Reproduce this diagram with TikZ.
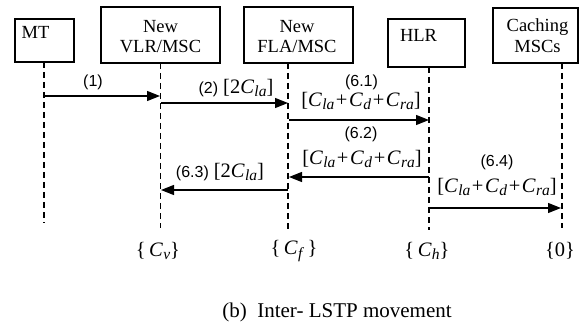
\documentclass[tikz,border=0pt]{standalone}
\usepackage{fontspec}
\setmainfont{Liberation Serif}
\newfontfamily\lsans{Liberation Sans}
\usetikzlibrary{arrows.meta}
\newcommand\Csub[1]{\textit{C}\kern0.3pt\raisebox{-3.5pt}{\fontsize{15.5}{15.5}\selectfont\textit{#1}}}
\newcommand\Pl{\hspace{0.08em}+\hspace{0.08em}}
\begin{document}
\begin{tikzpicture}[x=1pt,y=-1pt,
  box/.style={draw, line width=1.1pt, inner sep=0pt},
  btxt/.style={font=\fontsize{18.5}{18.5}\selectfont, inner sep=0pt, anchor=base},
  life/.style={line width=1.3pt, dash pattern=on 6pt off 4pt},
  msg/.style={line width=1.4pt, -{Triangle[length=13pt,width=10pt]}},
  lbl/.style={font=\lsans\fontsize{16}{16}\selectfont, inner sep=0pt},
  mth/.style={font=\fontsize{20.5}{20.5}\selectfont, inner sep=0pt},
  captxt/.style={font=\fontsize{21}{21}\selectfont, inner sep=0pt}]
\useasboundingbox (0,0) rectangle (582,329);
% boxes
\node[box, minimum width=59pt, minimum height=43pt] (mt) at (44.5,40.5) {};
\node[box, minimum width=119pt, minimum height=56pt] (vlr) at (160.5,35) {};
\node[box, minimum width=109pt, minimum height=56pt] (fla) at (298.5,35) {};
\node[box, minimum width=77pt, minimum height=48pt] (hlr) at (426.5,43) {};
\node[box, minimum width=85pt, minimum height=55pt] (cach) at (535.5,35.5) {};
% box texts
\node[btxt, anchor=base west] (mtT) at (21.5,38.3) {MT};
\node[btxt] (vlrT1) at (160.5,33) {New};
\node[btxt] (vlrT2) at (160.5,53) {VLR/MSC};
\node[btxt] (flaT1) at (297,33) {New};
\node[btxt] (flaT2) at (297,53) {FLA/MSC};
\node[btxt] (hlrT) at (418.5,42) {HLR};
\node[btxt] (cachT1) at (537.5,32) {Caching};
\node[btxt] (cachT2) at (537.5,53) {MSCs};
% lifelines
\coordinate (mtA) at (44,62);  \coordinate (mtB) at (44,223);
\coordinate (vlrA) at (160.5,63); \coordinate (vlrB) at (160.5,228);
\coordinate (flaA) at (288,63); \coordinate (flaB) at (288,230);
\coordinate (hlrA) at (429,67); \coordinate (hlrB) at (429,230);
\coordinate (cachA) at (562,63); \coordinate (cachB) at (562,228);
\draw[life] (mtA) -- (mtB);
\draw[life] (vlrA) -- (vlrB);
\draw[life] (flaA) -- (flaB);
\draw[life] (hlrA) -- (hlrB);
\draw[life] (cachA) -- (cachB);
% message end points
\coordinate (m1s) at (44,96);   \coordinate (m1e) at (160,96);
\coordinate (m2s) at (161,103); \coordinate (m2e) at (288,103);
\coordinate (m3s) at (289,120); \coordinate (m3e) at (429,120);
\coordinate (m4s) at (429,177); \coordinate (m4e) at (289,177);
\coordinate (m5s) at (288,190); \coordinate (m5e) at (161,190);
\coordinate (m6s) at (430,208); \coordinate (m6e) at (561,208);
\draw[msg] (m1s) -- (m1e);
\draw[msg] (m2s) -- (m2e);
\draw[msg] (m3s) -- (m3e);
\draw[msg] (m4s) -- (m4e);
\draw[msg] (m5s) -- (m5e);
\draw[msg] (m6s) -- (m6e);
% labels
\node[lbl] (l1) at (93,82) {(1)};
\node[inner sep=0pt] (l2) at (236,88) {{\lsans\fontsize{16}{16}\selectfont (2)}\hspace{5pt}{\fontsize{20.5}{20.5}\selectfont [2\Csub{la}]}};
\node[lbl] (l3a) at (361.5,82) {(6.1)};
\node[mth] (l3b) at (361,101) {[\Csub{la}\Pl\Csub{d}\Pl\Csub{ra}]};
\node[lbl] (l4a) at (361,134) {(6.2)};
\node[mth] (l4b) at (362,159) {[\Csub{la}\Pl\Csub{d}\Pl\Csub{ra}]};
\node[inner sep=0pt] (l5) at (220,172) {{\lsans\fontsize{16}{16}\selectfont (6.3)}\hspace{5pt}{\fontsize{20.5}{20.5}\selectfont [2\Csub{la}]}};
\node[lbl] (l6a) at (497,162) {(6.4)};
\node[mth] (l6b) at (497,187) {[\Csub{la}\Pl\Csub{d}\Pl\Csub{ra}]};
% bottom sets
\node[mth] (sv) at (158,251) {\{\,\Csub{v}\}};
\node[mth] (sf) at (294,251) {\{\,\Csub{f}\,\}};
\node[mth] (sh) at (427,251) {\{\,\Csub{h}\}};
\node[mth] (s0) at (560,251) {\{0\}};
% caption
\node[captxt] (capt) at (337,312) {(b)\enspace Inter- LSTP movement};
\end{tikzpicture}
\end{document}
